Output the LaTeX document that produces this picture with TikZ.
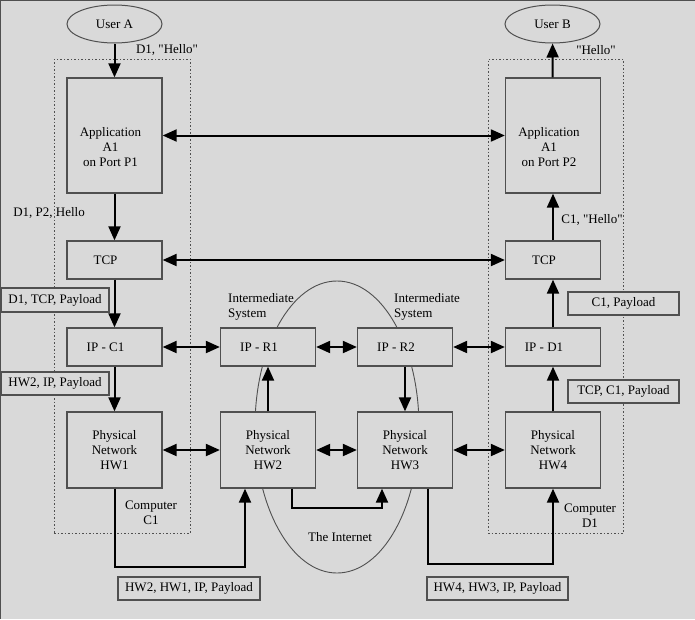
\documentclass[tikz,border=0pt]{standalone}
\usepackage{fontspec}
\setmainfont{Liberation Serif}
\usetikzlibrary{arrows.meta,shapes.geometric}
\definecolor{bgc}{RGB}{217,217,217}
\definecolor{edge}{RGB}{80,80,80}
\newcommand{\qmark}{\textquotedbl}
\begin{document}
\begin{tikzpicture}[x=1pt,y=-1pt,
  every node/.style={font=\fontsize{13}{15}\selectfont, inner sep=0pt},
  blk/.style={draw=edge, fill=bgc, line width=1.3pt, rectangle, minimum width=95pt},
  smallbox/.style={blk, minimum height=38pt},
  physbox/.style={blk, minimum height=76pt},
  appbox/.style={blk, minimum height=115pt},
  usr/.style={draw=edge, line width=1pt, ellipse, minimum width=95pt, minimum height=38pt},
  tagbox/.style={draw=edge, fill=bgc, line width=1.3pt, minimum height=23pt},
  txt/.style={align=center},
  arr/.style={line width=2pt, -{Triangle[length=14pt,width=12pt]}},
  darr/.style={line width=2pt, {Triangle[length=14pt,width=12pt]}-{Triangle[length=14pt,width=12pt]}},
  hostbox/.style={draw=edge, line width=1pt, dash pattern=on 1.5pt off 2pt},
  cloud/.style={draw=edge, line width=0.9pt, ellipse}
]
\useasboundingbox (0,0) rectangle (695,619);
\fill[bgc] (0,0) rectangle (695,619);
\draw[edge, line width=1.5pt] (0,619) -- (0,0) -- (695,0);

% internet ellipse and host frames
\node[cloud, minimum width=164pt, minimum height=292pt] (internet) at (337,427) {};
\node[hostbox, minimum width=136pt, minimum height=474pt] (hostC) at (122,296) {};
\node[hostbox, minimum width=135pt, minimum height=474pt] (hostD) at (555.5,296) {};

% users
\node[usr] (userA) at (114.5,24) {User A};
\node[usr] (userB) at (552.5,24) {User B};

% layer boxes
\node[appbox, label={[xshift=-4pt,yshift=-12pt,align=center]center:Application\\A1\\on Port P1}] (appA) at (114.5,135.5) {};
\node[appbox, label={[xshift=-4pt,yshift=-12pt,align=center]center:Application\\A1\\on Port P2}] (appB) at (553,135.5) {};
\node[smallbox, label={[xshift=-9pt]center:TCP}] (tcpA) at (114.5,260) {};
\node[smallbox, label={[xshift=-9pt]center:TCP}] (tcpB) at (553,260) {};
\node[smallbox, label={[xshift=-9pt]center:IP - C1}] (ipC) at (114.5,347) {};
\node[smallbox, label={[xshift=-9pt]center:IP - R1}] (ipR1) at (268,347) {};
\node[smallbox, label={[xshift=-9pt]center:IP - R2}] (ipR2) at (405,347) {};
\node[smallbox, label={[xshift=-9pt]center:IP - D1}] (ipD) at (553,347) {};
\node[physbox, txt] (hw1) at (114.5,450) {Physical\\Network\\HW1};
\node[physbox, txt] (hw2) at (268,450) {Physical\\Network\\HW2};
\node[physbox, txt] (hw3) at (405,450) {Physical\\Network\\HW3};
\node[physbox, txt] (hw4) at (553,450) {Physical\\Network\\HW4};

% plain labels
\node (l1) at (167,50) {D1, \qmark Hello\qmark};
\node (l2) at (596,50) {\qmark Hello\qmark};
\node (l3) at (49,213) {D1, P2, Hello};
\node (l4) at (592,220) {C1, \qmark Hello\qmark};
\node[align=left, anchor=west] (isL) at (228,307) {Intermediate\\System};
\node[align=left, anchor=west] (isR) at (394,307) {Intermediate\\System};
\node[txt] (compC) at (151,513) {Computer\\C1};
\node[txt] (compD) at (590,516) {Computer\\D1};
\node (inet) at (340,537) {The Internet};

% framed labels
\node[tagbox, minimum width=108pt, minimum height=24pt] (t1) at (55,300) {D1, TCP, Payload};
\node[tagbox, minimum width=108pt] (t2) at (55,383.5) {HW2, IP, Payload};
\node[tagbox, minimum width=142pt] (t3) at (189,588.5) {HW2, HW1, IP, Payload};
\node[tagbox, minimum width=141pt] (t4) at (497.5,588.5) {HW4, HW3, IP, Payload};
\node[tagbox, minimum width=111pt] (t5) at (623.5,303.5) {C1, Payload};
\node[tagbox, minimum width=111pt] (t6) at (623.5,391.5) {TCP, C1, Payload};

% sender stack
\draw[arr] (userA) -- (appA);
\draw[arr] (appA) -- (tcpA);
\draw[arr] (tcpA) -- (ipC);
\draw[arr] (ipC) -- (hw1);

% peer links
\draw[darr] (appA) -- (appB);
\draw[darr] (tcpA) -- (tcpB);
\draw[darr] (ipC) -- (ipR1);
\draw[darr] (ipR1) -- (ipR2);
\draw[darr] (ipR2) -- (ipD);
\draw[darr] (hw1) -- (hw2);
\draw[darr] (hw2) -- (hw3);
\draw[darr] (hw3) -- (hw4);

% routers
\draw[arr] (hw2) -- (ipR1);
\draw[arr] (ipR2) -- (hw3);

% receiver stack
\draw[arr] (hw4) -- (ipD);
\draw[arr] (ipD) -- (tcpB);
\draw[arr] (tcpB) -- (appB);
\draw[arr] (appB) -- (userB);

% physical paths
\draw[arr] (hw1.south) -- ++(0,78) -| ([xshift=-23pt]hw2.south);
\draw[arr] ([xshift=24pt]hw2.south) -- ++(0,19) -| ([xshift=-23pt]hw3.south);
\draw[arr] ([xshift=23pt]hw3.south) -- ++(0,75) -| (hw4.south);
\end{tikzpicture}
\end{document}
